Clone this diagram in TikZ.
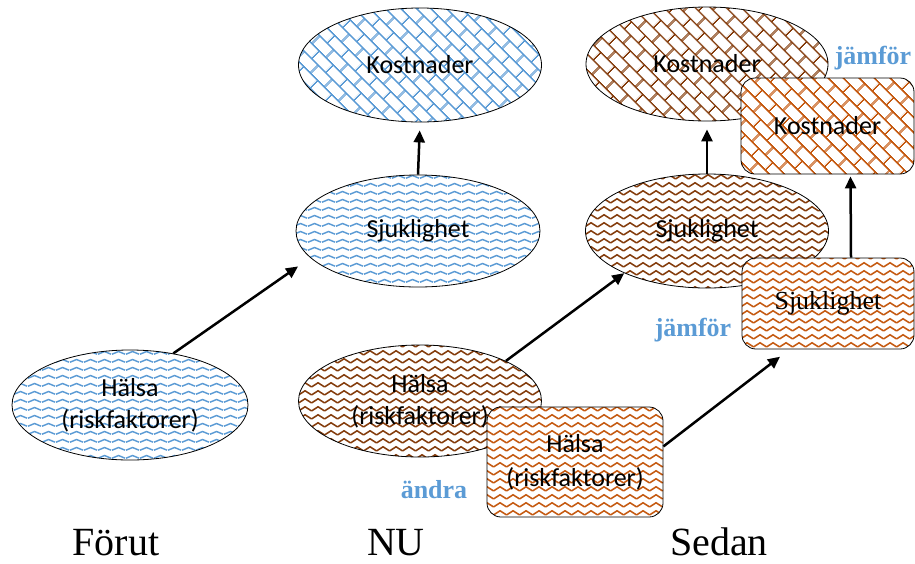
\documentclass[tikz,border=0pt]{standalone}
\usepackage{fontspec}
\setmainfont{Liberation Serif}
\newfontfamily\calib{Carlito}
\usetikzlibrary{shapes.geometric,patterns.meta,arrows.meta}

\pgfdeclarepattern{
  name=zigzagp, type=uncolored,
  bottom left={\pgfpoint{0pt}{0pt}},
  top right={\pgfpoint{13pt}{8pt}},
  tile size={\pgfpoint{13pt}{8pt}},
  code={
    \pgfsetlinewidth{1.7pt}
    \pgfsetmiterjoin
    \pgfpathmoveto{\pgfpoint{-1pt}{1.5pt}}
    \pgfpathlineto{\pgfpoint{0pt}{1.5pt}}
    \pgfpathlineto{\pgfpoint{6.5pt}{5.8pt}}
    \pgfpathlineto{\pgfpoint{13pt}{1.5pt}}
    \pgfpathlineto{\pgfpoint{14pt}{1.5pt}}
    \pgfusepath{stroke}
  }
}
\pgfdeclarepattern{
  name=wavep, type=uncolored,
  bottom left={\pgfpoint{0pt}{0pt}},
  top right={\pgfpoint{14pt}{8pt}},
  tile size={\pgfpoint{14pt}{8pt}},
  code={
    \pgfsetlinewidth{1.6pt}
    \pgfpathmoveto{\pgfpoint{0pt}{2pt}}
    \pgfpathcurveto{\pgfpoint{3.5pt}{2pt}}{\pgfpoint{3.5pt}{5pt}}{\pgfpoint{7pt}{5pt}}
    \pgfpathcurveto{\pgfpoint{10.5pt}{5pt}}{\pgfpoint{10.5pt}{2pt}}{\pgfpoint{14pt}{2pt}}
    \pgfusepath{stroke}
  }
}
\pgfdeclarepattern{
  name=dbrickp, type=uncolored,
  bottom left={\pgfpoint{0pt}{0pt}},
  top right={\pgfpoint{20pt}{22pt}},
  tile size={\pgfpoint{20pt}{22pt}},
  tile transformation={\pgftransformrotate{-45}},
  code={
    \pgfsetlinewidth{1.7pt}
    \pgfpathmoveto{\pgfpoint{-1pt}{5.5pt}}
    \pgfpathlineto{\pgfpoint{21pt}{5.5pt}}
    \pgfpathmoveto{\pgfpoint{-1pt}{16.5pt}}
    \pgfpathlineto{\pgfpoint{21pt}{16.5pt}}
    \pgfpathmoveto{\pgfpoint{5pt}{5.5pt}}
    \pgfpathlineto{\pgfpoint{5pt}{16.5pt}}
    \pgfpathmoveto{\pgfpoint{15pt}{16.5pt}}
    \pgfpathlineto{\pgfpoint{15pt}{23pt}}
    \pgfpathmoveto{\pgfpoint{15pt}{-1pt}}
    \pgfpathlineto{\pgfpoint{15pt}{5.5pt}}
    \pgfusepath{stroke}
  }
}

\definecolor{pblue}{HTML}{5B9BD5}
\definecolor{pbrown}{HTML}{843C0C}
\definecolor{porange}{HTML}{C55A11}
\definecolor{labblue}{HTML}{5B9BD5}

\begin{document}
\begin{tikzpicture}[x=1pt,y=-1pt,
  ell/.style={ellipse, draw=black, line width=0.8pt, inner sep=0pt,
    preaction={fill=white}, align=center,
    font=\calib\fontsize{26}{32}\selectfont},
  bx/.style={rectangle, rounded corners=14pt, draw=black, line width=0.8pt,
    inner sep=0pt, preaction={fill=white}, pattern color=porange, align=center,
    font=\calib\fontsize{26}{34}\selectfont},
  arr/.style={-{Triangle[length=12pt,width=11pt]}, line width=2.5pt},
  lab/.style={text=labblue, font=\bfseries\fontsize{26}{30}\selectfont},
  capt/.style={font=\fontsize{40}{48}\selectfont, anchor=base}]
\useasboundingbox (0,0) rectangle (915,563);

% Förut (blue)
\node[ell, pattern={dbrickp}, pattern color=pblue, minimum width=243pt, minimum height=114pt] (bk) at (420,65) {Kostnader};
\node[ell, pattern={wavep}, pattern color=pblue, minimum width=244pt, minimum height=112pt] (bs) at (418,231) {Sjuklighet};
\node[ell, pattern={wavep}, pattern color=pblue, minimum width=236pt, minimum height=110pt] (bh) at (130,405) {Hälsa\\(riskfaktorer)};

% NU (brown)
\node[ell, pattern={dbrickp}, pattern color=pbrown, minimum width=242pt, minimum height=114pt] (nk) at (707,64) {Kostnader};
\node[ell, pattern={zigzagp}, pattern color=pbrown, minimum width=243pt, minimum height=114pt] (ns) at (707,231) {Sjuklighet};
\node[ell, pattern={zigzagp}, pattern color=pbrown, minimum width=243pt, minimum height=112pt] (nh) at (420,401) {Hälsa\\(riskfaktorer)};

% Sedan (orange boxes)
\node[bx, pattern={dbrickp}, minimum width=173pt, minimum height=96pt] (kb) at (827.5,126) {Kostnader};
\node[bx, pattern={zigzagp}, minimum width=172pt, minimum height=91pt, font=\fontsize{26}{30}\selectfont] (sb) at (828,303.5) {Sjuklighet};
\node[bx, pattern={zigzagp}, minimum width=176pt, minimum height=110pt] (hb) at (575,462) {Hälsa\\(riskfaktorer)};

% arrows
\draw[arr, shorten >=15pt] (bh.50) -- (bs.194);
\draw[arr, shorten >=8pt] (bs.north) -- (bk.south);
\draw[arr] (nh.25) -- (ns.207);
\draw[arr, shorten >=8pt] (ns.north) -- (nk.south);
\draw[arr, shorten >=12pt] (hb.10) -- (sb.230);
\draw[arr, shorten >=2pt] ([xshift=23pt]sb.north) -- ([xshift=23pt]kb.south);

% labels
\node[lab] (j1) at (873,58) {jämför};
\node[lab] (j2) at (693,330) {jämför};
\node[lab] (an) at (434,490) {ändra};

% captions
\node[capt] (c1) at (116,555) {Förut};
\node[capt] (c2) at (396,555) {NU};
\node[capt] (c3) at (719,555) {Sedan};
\end{tikzpicture}
\end{document}
